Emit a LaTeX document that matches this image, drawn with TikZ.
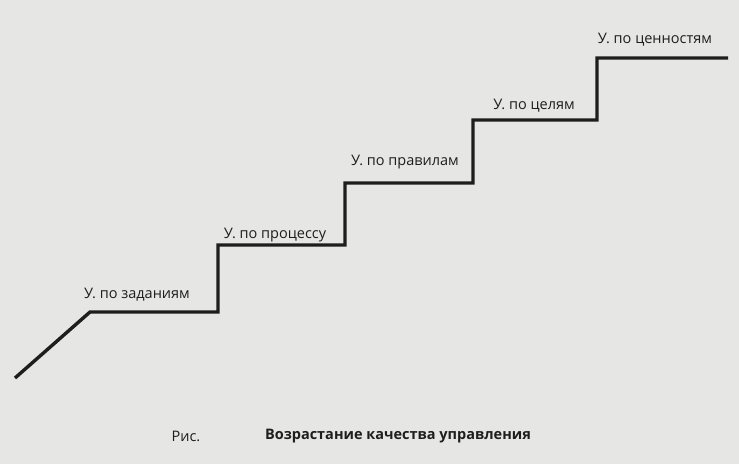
\documentclass[tikz,border=0pt]{standalone}
\usepackage{fontspec}
\setmainfont{Open Sans}
\definecolor{paper}{HTML}{E6E6E4}
\definecolor{ink}{HTML}{1E1E1E}
\tikzset{stair/.style={draw=ink,line width=3.4pt,line join=miter},
 lbl/.style={font=\fontsize{14.5}{16}\selectfont,text=ink,inner sep=0pt}}
\begin{document}
\begin{tikzpicture}[x=1pt,y=-1pt]
\fill[paper] (0,0) rectangle (739,464);
\useasboundingbox (0,0) rectangle (739,464);
\coordinate (s) at (15,378);
\coordinate (e) at (728,58);
\draw[stair] (s) -- (90,312) -- (218,312) -- (218,245) -- (345,245) -- (345,183) -- (473,183) -- (473,120) -- (597,120) -- (597,58) -- (e);
\node[lbl] (l1) at (137,295) {У. по заданиям};
\node[lbl] (l2) at (275,235) {У. по процессу};
\node[lbl] (l3) at (405,162) {У. по правилам};
\node[lbl] (l4) at (534,106) {У. по целям};
\node[lbl] (l5) at (655,40) {У. по ценностям};
\node[lbl] (c1) at (186,436) {Рис.};
\node[lbl,font=\fontsize{14.5}{16}\selectfont\bfseries] (c2) at (398,436) {Возрастание качества управления};
\end{tikzpicture}
\end{document}
